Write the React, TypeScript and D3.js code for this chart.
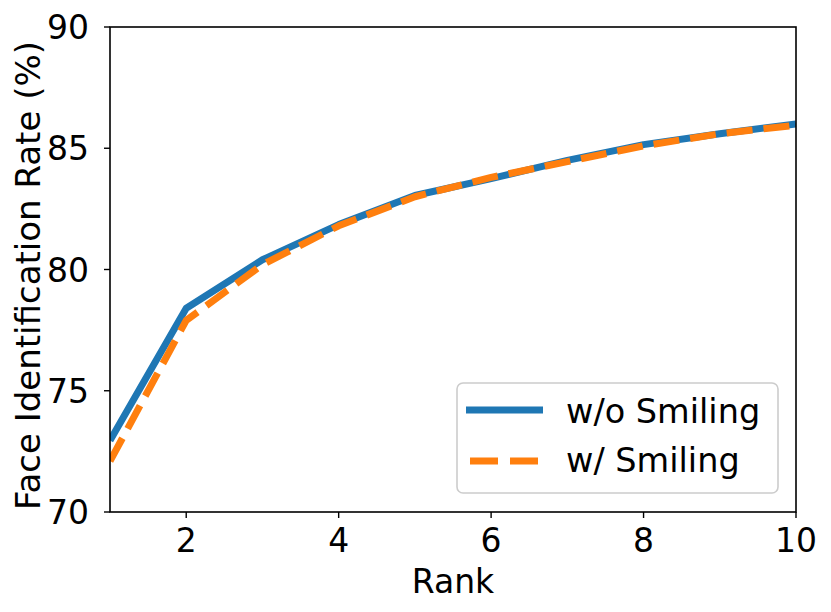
import React from "react";
import * as d3 from "d3";

const ranks = [1, 2, 3, 4, 5, 6, 7, 8, 9, 10];
const withoutSmiling = [72.95, 78.4, 80.4, 81.85, 83.05, 83.75, 84.5, 85.15, 85.6, 86.0];
const withSmiling = [72.1, 77.9, 80.2, 81.8, 83.0, 83.8, 84.45, 85.1, 85.6, 85.95];
const xTicks = [2, 4, 6, 8, 10];
const yTicks = [70, 75, 80, 85, 90];
const seriesNames = ["w/o Smiling", "w/ Smiling"];

const W = 831, H = 612;
const L = 110, R = 796, T = 27, B = 512;
const FONT = "DejaVu Sans";

export default function App() {
  const x = d3.scaleLinear().domain([1, 10]).range([L, R]);
  const y = d3.scaleLinear().domain([70, 90]).range([B, T]);
  const line = d3.line<number>().x((_, i) => x(ranks[i])).y((d) => y(d));
  return (
    <svg width={W} height={H} style={{ position: "absolute", left: 0, top: 0 }}>
      <defs>
        <clipPath id="plot">
          <rect x={L} y={T} width={R - L} height={B - T} />
        </clipPath>
      </defs>
      <rect x={0} y={0} width={W} height={H} fill="white" />
      <g clipPath="url(#plot)">
        <path d={line(withoutSmiling) || ""} fill="none" stroke="#1f77b4" strokeWidth={7} strokeLinejoin="round" />
        <path d={line(withSmiling) || ""} fill="none" stroke="#ff7f0e" strokeWidth={7} strokeDasharray="26,11" strokeLinejoin="round" />
      </g>
      <rect x={L} y={T} width={R - L} height={B - T} fill="none" stroke="black" strokeWidth={1.6} />
      {xTicks.map((t) => (
        <g key={"x" + t}>
          <line x1={x(t)} x2={x(t)} y1={B} y2={B + 6} stroke="black" strokeWidth={1.4} />
          <text x={x(t)} y={552} textAnchor="middle" fontFamily={FONT} fontSize={33}>{t}</text>
        </g>
      ))}
      {yTicks.map((t) => (
        <g key={"y" + t}>
          <line x1={L - 6} x2={L} y1={y(t)} y2={y(t)} stroke="black" strokeWidth={1.4} />
          <text x={89} y={y(t) + 12} textAnchor="end" fontFamily={FONT} fontSize={33}>{t}</text>
        </g>
      ))}
      <text x={(L + R) / 2} y={593} textAnchor="middle" fontFamily={FONT} fontSize={33}>Rank</text>
      <text transform={`translate(40,${(T + B) / 2 + 6}) rotate(-90)`} textAnchor="middle" fontFamily={FONT} fontSize={34}>Face Identification Rate (%)</text>
      <g>
        <rect x={457} y={383} width={321} height={110} rx={6} fill="white" fillOpacity={0.8} stroke="#cccccc" strokeWidth={1.6} />
        <line x1={466} x2={543} y1={410} y2={410} stroke="#1f77b4" strokeWidth={7} />
        <line x1={470} x2={538} y1={461} y2={461} stroke="#ff7f0e" strokeWidth={7} strokeDasharray="28,12" />
        <text x={566} y={423} fontFamily={FONT} fontSize={33.5}>{seriesNames[0]}</text>
        <text x={566} y={472} fontFamily={FONT} fontSize={33.5}>{seriesNames[1]}</text>
      </g>
    </svg>
  );
}
